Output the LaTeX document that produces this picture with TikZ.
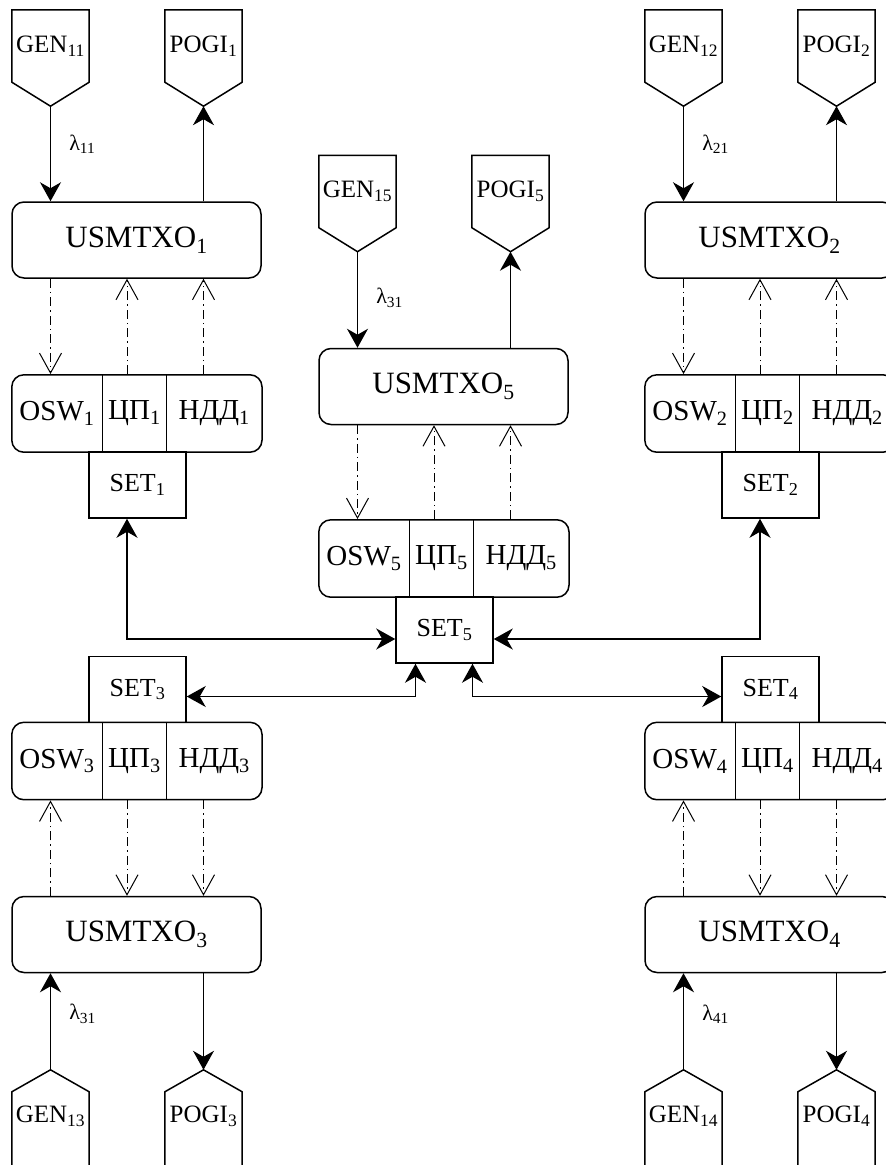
\documentclass[tikz,border=0pt]{standalone}
\usepackage{fontspec}
\setmainfont{Liberation Serif}
\usepackage{tikz}
\usetikzlibrary{
    arrows.meta,
    positioning,
    calc,
    fit
}
\tikzset{
    % Controller box - rounded rectangle
    usmbox/.style={
        draw,
        line width=1.5pt,
        rounded corners=12pt,
        minimum width=249pt,
        minimum height=76pt,
        inner sep=0pt,
        font=\fontsize{31}{36}\selectfont,
    },
    % One cell of the OSW / ЦП / НДД row
    cell/.style={
        minimum height=77pt,
        inner sep=0pt,
        font=\fontsize{29}{34}\selectfont,
    },
    % Rounded frame round a row of cells
    rowbox/.style={
        draw,
        line width=1.5pt,
        rounded corners=12pt,
        inner sep=0pt,
    },
    % Network block
    setbox/.style={
        draw,
        line width=1.5pt,
        minimum width=97pt,
        minimum height=66pt,
        inner sep=0pt,
        font=\fontsize{26}{30}\selectfont,
    },
    % Generator / receiver text area, outline drawn apart
    port/.style={
        minimum width=77pt,
        minimum height=72pt,
        inner sep=0pt,
        font=\fontsize{25}{30}\selectfont,
    },
    portline/.style={
        line width=1.5pt,
        line join=miter,
    },
    divider/.style={
        line width=1.2pt,
    },
    % Flow label
    lam/.style={
        font=\fontsize{22}{26}\selectfont,
        inner sep=2pt,
    },
    % Solid arrows
    arrow/.style={
        ->,
        line width=1.5pt,
    },
    arrow both/.style={
        <->,
        line width=1.5pt,
    },
    % Dash-dot control arrow
    arrow control/.style={
        -{Straight Barb[length=20pt, width=22pt]},
        line width=1pt,
        dash pattern=on 9pt off 4pt on 1.5pt off 4pt,
    },
}

\begin{document}
\begin{tikzpicture}[x=1pt, y=-1pt, >={Stealth[length=19pt, width=21pt, inset=6pt]}]
    \useasboundingbox (0,0) rectangle (886,1165);

    % ---------- top left ----------
    \node (usm1) [usmbox] at (136.5,240) {USMTXO\textsubscript{1}};
    \node (gen11) [port] at (50.5,46) {GEN\textsubscript{11}};
    \node (pogi1) [port] at (203.5,46) {POGI\textsubscript{1}};
    \node (osw1) [cell, minimum width=90pt] at (57,413.5) {OSW\textsubscript{1}};
    \node (cp1) [cell, minimum width=64pt, right=0pt of osw1] {ЦП\textsubscript{1}};
    \node (ndd1) [cell, minimum width=95pt, right=0pt of cp1] {НДД\textsubscript{1}};
    \node (row1) [rowbox, fit=(osw1)(ndd1)] {};
    \node (set1) [setbox] at (137.5,485) {SET\textsubscript{1}};
    \coordinate (mid1) at ($(gen11.south)!0.5!(pogi1.south)$);

    % ---------- top right ----------
    \node (usm2) [usmbox] at (769.5,240) {USMTXO\textsubscript{2}};
    \node (gen12) [port] at (683.5,46) {GEN\textsubscript{12}};
    \node (pogi2) [port] at (836.5,46) {POGI\textsubscript{2}};
    \node (osw2) [cell, minimum width=90pt] at (690,413.5) {OSW\textsubscript{2}};
    \node (cp2) [cell, minimum width=64pt, right=0pt of osw2] {ЦП\textsubscript{2}};
    \node (ndd2) [cell, minimum width=95pt, right=0pt of cp2] {НДД\textsubscript{2}};
    \node (row2) [rowbox, fit=(osw2)(ndd2)] {};
    \node (set2) [setbox] at (770.5,485) {SET\textsubscript{2}};
    \coordinate (mid2) at ($(gen12.south)!0.5!(pogi2.south)$);

    % ---------- centre ----------
    \node (usm5) [usmbox] at (443.5,386.5) {USMTXO\textsubscript{5}};
    \node (gen15) [port] at (357.5,191.5) {GEN\textsubscript{15}};
    \node (pogi5) [port] at (510.5,191.5) {POGI\textsubscript{5}};
    \node (osw5) [cell, minimum width=90pt] at (364,558.5) {OSW\textsubscript{5}};
    \node (cp5) [cell, minimum width=64pt, right=0pt of osw5] {ЦП\textsubscript{5}};
    \node (ndd5) [cell, minimum width=95pt, right=0pt of cp5] {НДД\textsubscript{5}};
    \node (row5) [rowbox, fit=(osw5)(ndd5)] {};
    \node (set5) [setbox] at (444.5,630) {SET\textsubscript{5}};
    \coordinate (mid5) at ($(gen15.south)!0.5!(pogi5.south)$);

    % ---------- bottom left ----------
    \node (usm3) [usmbox] at (136.5,934.5) {USMTXO\textsubscript{3}};
    \node (gen13) [port, minimum height=48pt] at (50.5,1116) {GEN\textsubscript{13}};
    \node (pogi3) [port, minimum height=48pt] at (203.5,1116) {POGI\textsubscript{3}};
    \node (osw3) [cell, minimum width=90pt] at (57,761) {OSW\textsubscript{3}};
    \node (cp3) [cell, minimum width=64pt, right=0pt of osw3] {ЦП\textsubscript{3}};
    \node (ndd3) [cell, minimum width=95pt, right=0pt of cp3] {НДД\textsubscript{3}};
    \node (row3) [rowbox, fit=(osw3)(ndd3)] {};
    \node (set3) [setbox] at (137.5,689.5) {SET\textsubscript{3}};
    \coordinate (mid3) at ($(gen13.north)!0.5!(pogi3.north)$);

    % ---------- bottom right ----------
    \node (usm4) [usmbox] at (769.5,934.5) {USMTXO\textsubscript{4}};
    \node (gen14) [port, minimum height=48pt] at (683.5,1116) {GEN\textsubscript{14}};
    \node (pogi4) [port, minimum height=48pt] at (836.5,1116) {POGI\textsubscript{4}};
    \node (osw4) [cell, minimum width=90pt] at (690,761) {OSW\textsubscript{4}};
    \node (cp4) [cell, minimum width=64pt, right=0pt of osw4] {ЦП\textsubscript{4}};
    \node (ndd4) [cell, minimum width=95pt, right=0pt of cp4] {НДД\textsubscript{4}};
    \node (row4) [rowbox, fit=(osw4)(ndd4)] {};
    \node (set4) [setbox] at (770.5,689.5) {SET\textsubscript{4}};
    \coordinate (mid4) at ($(gen14.north)!0.5!(pogi4.north)$);

    % pentagon outlines, pointing down
    \draw [portline] (gen11.north west) -- (gen11.north east) -- (gen11.south east) -- ([yshift=-24pt]gen11.south) -- (gen11.south west) -- cycle;
    \draw [portline] (pogi1.north west) -- (pogi1.north east) -- (pogi1.south east) -- ([yshift=-24pt]pogi1.south) -- (pogi1.south west) -- cycle;
    \draw [portline] (gen12.north west) -- (gen12.north east) -- (gen12.south east) -- ([yshift=-24pt]gen12.south) -- (gen12.south west) -- cycle;
    \draw [portline] (pogi2.north west) -- (pogi2.north east) -- (pogi2.south east) -- ([yshift=-24pt]pogi2.south) -- (pogi2.south west) -- cycle;
    \draw [portline] (gen15.north west) -- (gen15.north east) -- (gen15.south east) -- ([yshift=-24pt]gen15.south) -- (gen15.south west) -- cycle;
    \draw [portline] (pogi5.north west) -- (pogi5.north east) -- (pogi5.south east) -- ([yshift=-24pt]pogi5.south) -- (pogi5.south west) -- cycle;
    % pentagon outlines, pointing up (cut by the page edge)
    \draw [portline] ([yshift=-40pt]gen13.south west) -- (gen13.north west) -- ([yshift=22pt]gen13.north) -- (gen13.north east) -- ([yshift=-40pt]gen13.south east);
    \draw [portline] ([yshift=-40pt]pogi3.south west) -- (pogi3.north west) -- ([yshift=22pt]pogi3.north) -- (pogi3.north east) -- ([yshift=-40pt]pogi3.south east);
    \draw [portline] ([yshift=-40pt]gen14.south west) -- (gen14.north west) -- ([yshift=22pt]gen14.north) -- (gen14.north east) -- ([yshift=-40pt]gen14.south east);
    \draw [portline] ([yshift=-40pt]pogi4.south west) -- (pogi4.north west) -- ([yshift=22pt]pogi4.north) -- (pogi4.north east) -- ([yshift=-40pt]pogi4.south east);

    % cell dividers
    \draw [divider] (osw1.north east) -- (osw1.south east);
    \draw [divider] (cp1.north east) -- (cp1.south east);
    \draw [divider] (osw2.north east) -- (osw2.south east);
    \draw [divider] (cp2.north east) -- (cp2.south east);
    \draw [divider] (osw5.north east) -- (osw5.south east);
    \draw [divider] (cp5.north east) -- (cp5.south east);
    \draw [divider] (osw3.north east) -- (osw3.south east);
    \draw [divider] (cp3.north east) -- (cp3.south east);
    \draw [divider] (osw4.north east) -- (osw4.south east);
    \draw [divider] (cp4.north east) -- (cp4.south east);

    % input and output flows
    \draw [arrow] ([yshift=-24pt]gen11.south) -- node [lam, pos=0.4, right=16pt] {λ\textsubscript{11}} (gen11.south |- usm1.north);
    \draw [arrow] (pogi1.south |- usm1.north) -- ([yshift=-24pt]pogi1.south);
    \draw [arrow] ([yshift=-24pt]gen12.south) -- node [lam, pos=0.4, right=16pt] {λ\textsubscript{21}} (gen12.south |- usm2.north);
    \draw [arrow] (pogi2.south |- usm2.north) -- ([yshift=-24pt]pogi2.south);
    \draw [arrow] ([yshift=-24pt]gen15.south) -- node [lam, pos=0.48, right=16pt] {λ\textsubscript{31}} (gen15.south |- usm5.north);
    \draw [arrow] (pogi5.south |- usm5.north) -- ([yshift=-24pt]pogi5.south);
    \draw [arrow] ([yshift=22pt]gen13.north) -- node [lam, pos=0.58, right=16pt] {λ\textsubscript{31}} (gen13.north |- usm3.south);
    \draw [arrow] (pogi3.north |- usm3.south) -- ([yshift=22pt]pogi3.north);
    \draw [arrow] ([yshift=22pt]gen14.north) -- node [lam, pos=0.58, right=16pt] {λ\textsubscript{41}} (gen14.north |- usm4.south);
    \draw [arrow] (pogi4.north |- usm4.south) -- ([yshift=22pt]pogi4.north);

    % control links
    \draw [arrow control] (gen11.south |- usm1.south) -- (gen11.south |- row1.north);
    \draw [arrow control] (mid1 |- row1.north) -- (mid1 |- usm1.south);
    \draw [arrow control] (pogi1.south |- row1.north) -- (pogi1.south |- usm1.south);
    \draw [arrow control] (gen12.south |- usm2.south) -- (gen12.south |- row2.north);
    \draw [arrow control] (mid2 |- row2.north) -- (mid2 |- usm2.south);
    \draw [arrow control] (pogi2.south |- row2.north) -- (pogi2.south |- usm2.south);
    \draw [arrow control] (gen15.south |- usm5.south) -- (gen15.south |- row5.north);
    \draw [arrow control] (mid5 |- row5.north) -- (mid5 |- usm5.south);
    \draw [arrow control] (pogi5.south |- row5.north) -- (pogi5.south |- usm5.south);
    \draw [arrow control] (gen13.north |- usm3.north) -- (gen13.north |- row3.south);
    \draw [arrow control] (mid3 |- row3.south) -- (mid3 |- usm3.north);
    \draw [arrow control] (pogi3.north |- row3.south) -- (pogi3.north |- usm3.north);
    \draw [arrow control] (gen14.north |- usm4.north) -- (gen14.north |- row4.south);
    \draw [arrow control] (mid4 |- row4.south) -- (mid4 |- usm4.north);
    \draw [arrow control] (pogi4.north |- row4.south) -- (pogi4.north |- usm4.north);

    % network links
    \draw [arrow both] (mid1 |- set1.south) |- ([yshift=-9pt]set5.west);
    \draw [arrow both] (mid2 |- set2.south) |- ([yshift=-9pt]set5.east);
    \draw [arrow both] ([yshift=-7pt]set3.east) -| ([xshift=-29pt]set5.south);
    \draw [arrow both] ([yshift=-7pt]set4.west) -| ([xshift=28pt]set5.south);
\end{tikzpicture}
\end{document}
